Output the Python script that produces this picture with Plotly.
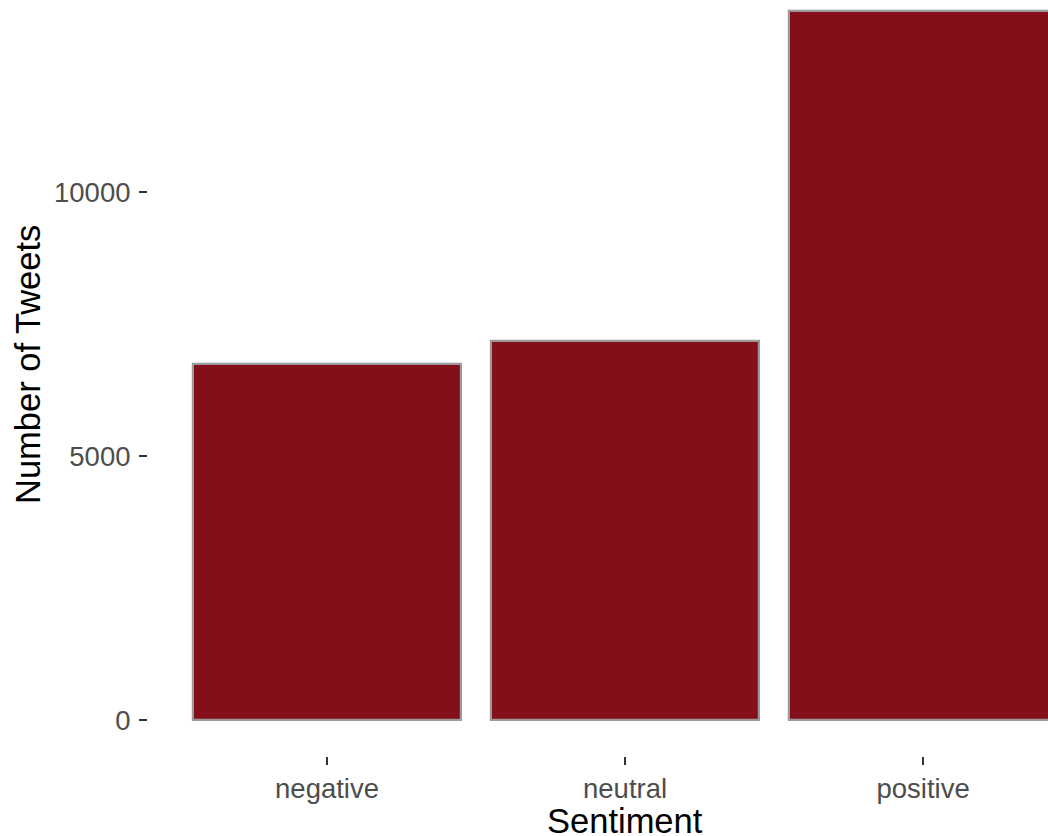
import plotly.graph_objects as go

sentiments = ["negative", "neutral", "positive"]
tweet_counts = [6750, 7170, 13420]
y_tick_values = [0, 5000, 10000]
y_tick_labels = ["0", "5000", "10000"]

FONT = "Liberation Sans, Arial, Helvetica, sans-serif"

fig = go.Figure()
fig.add_trace(go.Bar(
    x=list(range(len(sentiments))),
    y=tweet_counts,
    width=0.9,
    marker=dict(color="#850E1B", line=dict(color="#9a9a9a", width=2.2)),
    showlegend=False,
    hoverinfo="skip",
))

fig.update_layout(
    width=1048, height=836,
    margin=dict(l=148, r=0, t=0, b=80, pad=0),
    paper_bgcolor="white", plot_bgcolor="white",
    font=dict(family=FONT),
    bargap=0,
)
fig.update_xaxes(
    range=[-0.6007, 2.419],
    tickmode="array",
    tickvals=list(range(len(sentiments))),
    ticktext=sentiments,
    ticks="outside", ticklen=8, tickwidth=2, tickcolor="#333333",
    tickfont=dict(size=27.5, color="#4d4d4d", family=FONT),
    showgrid=False, zeroline=False, showline=False,
    ticklabelstandoff=0,
)
fig.update_yaxes(
    range=[-682, 13636],
    tickmode="array",
    tickvals=y_tick_values,
    ticktext=y_tick_labels,
    ticks="outside", ticklen=8, tickwidth=2, tickcolor="#333333",
    tickfont=dict(size=27.5, color="#4d4d4d", family=FONT),
    showgrid=False, zeroline=False, showline=False,
    ticklabelstandoff=3,
)

# axis titles (the original panel extends beyond the cropped image, so titles are
# centred on the full panel rather than the visible part)
fig.add_annotation(
    text="Sentiment", xref="x", x=1, yref="paper", y=0, yshift=-44,
    yanchor="top", showarrow=False,
    font=dict(size=34.5, color="black", family=FONT),
)
fig.add_annotation(
    text="Number of Tweets", xref="paper", x=0, xshift=-120, xanchor="center",
    yref="paper", y=(756 - 365) / 756, yanchor="middle", textangle=-90,
    showarrow=False,
    font=dict(size=34.5, color="black", family=FONT),
)

fig.write_html(
    "out.html",
    config={"displayModeBar": False},
    post_script="document.body.style.margin='0';document.body.style.overflow='hidden';",
)
